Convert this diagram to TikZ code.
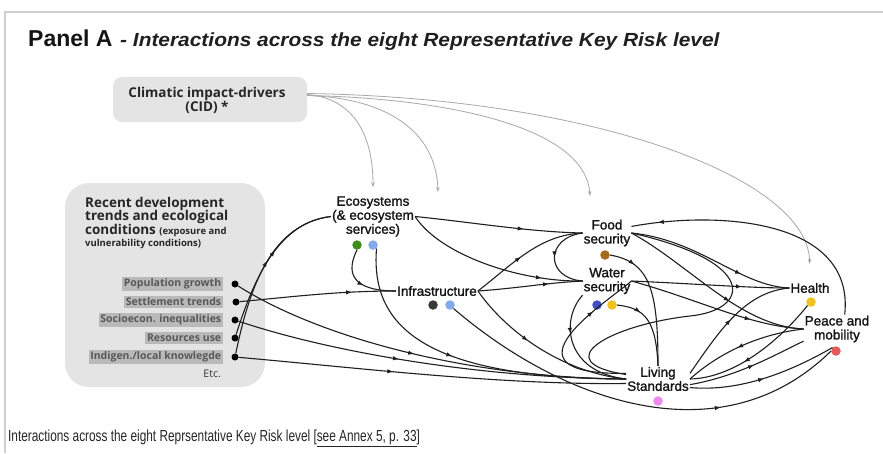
\documentclass[tikz,border=0pt]{standalone}
\usepackage{fontspec}
\setmainfont{Liberation Sans}
\newfontfamily\humfont{Open Sans}
\newfontfamily\riskfont[FakeBold=1.4]{Liberation Sans}
\newfontfamily\widefont[FakeStretch=1.1]{Liberation Sans}
\newfontfamily\capfont[FakeStretch=0.74]{Liberation Sans}
\usetikzlibrary{arrows.meta,decorations.markings}

\definecolor{boxgray}{HTML}{E4E4E4}
\definecolor{tag}{HTML}{B9B9B9}
\definecolor{tagtext}{HTML}{585858}
\definecolor{cidline}{HTML}{A8A8A8}
\definecolor{framegray}{HTML}{CFCFCF}
\definecolor{ecogreen}{HTML}{3C8C1E}
\definecolor{ltblue}{HTML}{82A9E8}
\definecolor{infdark}{HTML}{3A3A3A}
\definecolor{foodbrown}{HTML}{A66A1C}
\definecolor{wblue}{HTML}{3F4FC6}
\definecolor{amber}{HTML}{F1C11F}
\definecolor{violet}{HTML}{EE88EE}
\definecolor{coral}{HTML}{E25A5A}

\tikzset{
  panelbox/.style={fill=boxgray, draw=none},
  risk/.style={align=center, inner sep=1pt, text=black!92, font=\riskfont\fontsize{13.5}{14}\selectfont},
  tagbox/.style={anchor=east, fill=tag, text=tagtext, inner sep=1.6pt, minimum height=12.5pt, font=\humfont\bfseries\fontsize{10.5}{10.5}\selectfont},
  devtext/.style={anchor=base west, inner sep=0pt, text=black!85, font=\humfont\bfseries\fontsize{13.5}{13.5}\selectfont},
  riskdot/.style={circle, inner sep=0pt, minimum size=9.5pt, fill=#1},
  jdot/.style={circle, inner sep=0pt, minimum size=7pt, fill=black},
  link/.style={draw=black!88, line width=1.1pt},
  tipat/.style={postaction={decorate, decoration={markings, mark=at position #1 with {\arrow{Latex[length=6pt,width=4.5pt]}}}}},
  cidlink/.style={draw=cidline, line width=0.8pt, -{Stealth[length=5pt,width=3.5pt]}},
}

\begin{document}
\begin{tikzpicture}[x=1pt,y=-1pt]
\useasboundingbox (0,0) rectangle (883,453);
\fill[white] (0,0) rectangle (883,453);
\draw[framegray, line width=1.2pt] (5,453) -- (5,12) -- (883,12);

% heading
\node[anchor=base west, inner sep=0pt, text=black!92, font=\bfseries\fontsize{23}{23}\selectfont] (ttl) at (28,46) {Panel A};
\node[anchor=base west, inner sep=0pt, text=black!88, font=\widefont\bfseries\itshape\fontsize{19}{19}\selectfont] (subttl) at (120,46) {- Interactions across the eight Representative Key Risk level};

% climatic impact-drivers
\node[panelbox, rounded corners=9pt, minimum width=194pt, minimum height=45pt] (cidbox) at (210,99.5) {};
\node[align=center, inner sep=0pt, text=black!85, font=\humfont\bfseries\fontsize{13.5}{14}\selectfont] (cid) at (207,100) {Climatic impact-drivers\\(CID) *};

% development trends panel
\node[panelbox, rounded corners=24pt, minimum width=200pt, minimum height=204pt] (devbox) at (165,285) {};
\node[devtext] (dev1) at (85,207) {Recent development};
\node[devtext] (dev2) at (85,220) {trends and ecological};
\node[devtext] (dev3) at (85,234) {conditions {\fontsize{9.5}{9.5}\selectfont (exposure and}};
\node[devtext, font=\humfont\bfseries\fontsize{9.5}{9.5}\selectfont] (dev4) at (85,246) {vulnerability conditions)};

\node[tagbox] (tPop) at (223,284) {Population growth};
\node[tagbox] (tSet) at (223,302) {Settlement trends};
\node[tagbox] (tSoc) at (223,320) {Socioecon. inequalities};
\node[tagbox] (tRes) at (223,338) {Resources use};
\node[tagbox] (tInd) at (223,357) {Indigen./local knowlegde};
\node[anchor=east, inner sep=0pt, text=black!80, font=\humfont\fontsize{10.5}{10.5}\selectfont] (etc) at (221,374) {Etc.};

\node[jdot] (jPop) at (235,284) {};
\node[jdot] (jSet) at (236,302) {};
\node[jdot] (jSoc) at (235,320) {};
\node[jdot] (jRes) at (235,338) {};
\node[jdot] (jInd) at (235,357) {};

% key risks
\node[risk] (eco) at (373,216.5) {Ecosystems\\(\& ecosystem\\services)};
\node[risk] (infra) at (437,291) {Infrastructure};
\node[risk] (food) at (607,233) {Food\\security};
\node[risk] (water) at (607,281) {Water\\security};
\node[risk] (health) at (810,288) {Health};
\node[risk] (peace) at (837,329) {Peace and\\mobility};
\node[risk] (ls) at (658,379) {Living\\Standards};

\node[riskdot=ecogreen] (ecoG) at (357,245) {};
\node[riskdot=ltblue] (ecoB) at (373,245) {};
\node[riskdot=infdark] (infK) at (433,305) {};
\node[riskdot=ltblue] (infB) at (450,305) {};
\node[riskdot=foodbrown] (foodD) at (605,255) {};
\node[riskdot=wblue] (watB) at (597,305) {};
\node[riskdot=amber] (watY) at (612,305) {};
\node[riskdot=amber] (healthD) at (811,302) {};
\node[riskdot=coral] (peaceD) at (836,351) {};
\node[riskdot=violet] (lsD) at (658,401) {};

% climatic drivers acting on the risks
\coordinate (cidTipB) at (438,192);
\coordinate (cidTipC) at (590,196);
\draw[cidlink, shorten >=8pt] ([yshift=5pt]cidbox.east) .. controls (350,98) and (373,130) .. (eco.north);
\draw[cidlink] ([yshift=4pt]cidbox.east) .. controls (385,98) and (436,130) .. (cidTipB);
\draw[cidlink] ([yshift=4pt]cidbox.east) .. controls (440,98) and (585,125) .. (cidTipC);
\draw[cidlink, shorten >=18pt] ([yshift=6pt]cidbox.east) .. controls (600,98) and (808,180) .. (health.north);

% development trends feeding the risks
\draw[link, tipat=0.58] (jRes) .. controls (255,275) and (280,222) .. (eco.west);
\draw[link, tipat=0.55] (jInd) .. controls (250,285) and (272,224) .. (eco.west);
\draw[link, tipat=0.72] (jSet) .. controls (300,296) and (340,291) .. (infra.west);
\draw[link, tipat=0.47] (jPop) .. controls (320,338) and (470,378) .. (ls.west);
\draw[link, tipat=0.42] (jSoc) .. controls (330,352) and (480,378) .. (ls.west);
\draw[link, tipat=0.40] (jInd) .. controls (360,368) and (500,385) .. (ls.188);

% ecosystems and infrastructure
\draw[link, tipat=0.45] (ecoB.south east) .. controls (370,330) and (430,378) .. (ls.west);
\draw[link, tipat=0.55] (ecoG.south) .. controls (342,280) and (362,291) .. (infra.west);
\draw[link, tipat=0.65] (eco.east) .. controls (470,222) and (530,232) .. (food.west);
\draw[link, tipat=0.78] (eco.east) .. controls (440,255) and (520,282) .. (water.west);
\draw[link, tipat=0.45] (infra.east) .. controls (515,262) and (540,235) .. (food.west);
\draw[link, tipat=0.68] (infra.east) .. controls (520,288) and (545,283) .. (water.west);
\draw[link, tipat=0.40] (infra.east) .. controls (505,330) and (560,372) .. (ls.west);
\draw[link, tipat=0.70] (infB.south east) .. controls (560,400) and (720,460) .. (peaceD.west);

% food and water security
\draw[link, tipat=0.5] (food.west) .. controls (545,238) and (545,278) .. (water.west);
\draw[link, tipat=0.35] (water.south west) .. controls (560,320) and (565,372) .. (ls.west);
\draw[link, tipat=0.2] (foodD.east) .. controls (650,262) and (658,290) .. (ls.north);
\draw[link, tipat=0.3] (watY.east) .. controls (645,308) and (656,320) .. (ls.north);
\draw[link, tipat=0.72] (ls.170) .. controls (490,375) and (610,300) .. (water.east);
\coordinate (loopTurn) at (690,316);
\draw[link] (food.east) .. controls (760,262) and (750,310) .. (loopTurn) .. controls (610,325) and (545,362) .. (ls.172);

% links towards health and mobility
\draw[link, tipat=0.7] (food.east) .. controls (700,240) and (740,286) .. (health.west);
\draw[link, tipat=0.6] (food.east) .. controls (690,265) and (740,326) .. (peace.west);
\draw[link, tipat=0.9] (peace.62) .. controls (855,220) and (720,210) .. (food.15);
\draw[link, tipat=0.7] (water.east) .. controls (700,284) and (750,288) .. (health.west);
\draw[link, tipat=0.7] (water.east) .. controls (700,300) and (750,326) .. (peace.west);
\draw[link, tipat=0.5] (ls.10) .. controls (720,330) and (745,292) .. (health.west);
\draw[link, tipat=0.55] (peace.west) .. controls (760,334) and (720,352) .. (ls.east);
\draw[link, tipat=0.55] (ls.350) .. controls (740,376) and (780,352) .. (peace.200);
\draw[link, tipat=0.5] (ls.345) .. controls (740,392) and (790,372) .. (peaceD.north west);
\draw[link, tipat=0.6] (healthD.south west) .. controls (780,340) and (735,378) .. (ls.east);

% caption
\node[anchor=base west, inner sep=0pt, text=black!85, font=\capfont\fontsize{16}{16}\selectfont] (caption) at (8,441) {Interactions across the eight Reprsentative Key Risk level [\underline{see Annex 5, p. 33}]};
\end{tikzpicture}
\end{document}
